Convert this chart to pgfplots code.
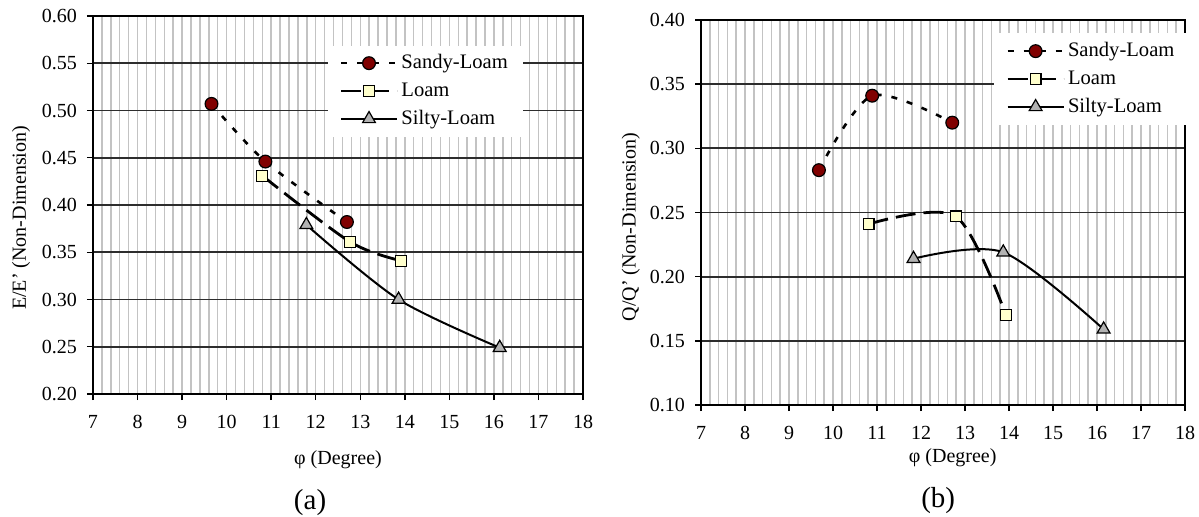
\documentclass[border=0pt]{standalone}
\usepackage{fontspec}
\setmainfont{Liberation Serif}
\usepackage{pgfplots}
\pgfplotsset{compat=1.18}

\definecolor{sandyfill}{RGB}{128,0,0}
\definecolor{loamfill}{RGB}{255,255,204}
\definecolor{siltyfill}{RGB}{178,178,178}
\definecolor{hgrid}{RGB}{45,45,45}
\definecolor{vgrid}{RGB}{195,195,195}

\pgfplotsset{
  soilaxis/.style={
    scale only axis,
    clip=false,
    xmin=7, xmax=18,
    xtick={7,...,18},
    minor x tick num=4,
    ytick distance=0.05,
    xmajorgrids, xminorgrids, ymajorgrids,
    major x grid style={vgrid, line width=0.75pt},
    minor x grid style={vgrid, line width=0.75pt},
    major y grid style={hgrid, line width=0.9pt},
    axis line style={line width=0.7pt},
    tick align=outside,
    tick pos=left,
    major tick length=3pt,
    minor tick length=0pt,
    tick style={black, line width=0.7pt},
    ticklabel style={font=\fontsize{10}{12}\selectfont},
    xticklabel style={yshift=-4pt},
    yticklabel style={xshift=-1.5pt},
    /pgf/number format/assume math mode=true,
    yticklabel style={/pgf/number format/fixed,
      /pgf/number format/fixed zerofill,
      /pgf/number format/precision=2},
    label style={font=\fontsize{10}{12}\selectfont},
    xlabel={φ (Degree)},
    legend style={draw=none, fill=white,
      font=\fontsize{10.3}{12}\selectfont,
      inner xsep=6pt, inner ysep=3pt, row sep=2.5pt,
      nodes={inner sep=1.5pt}},
    legend cell align=left,
    legend image code/.code={%
      \draw[mark repeat=2, mark phase=2, #1]
        plot coordinates {(0pt,0pt) (14pt,0pt) (28pt,0pt)};},
  },
  sandy/.style={black, smooth, line width=1.3pt, dash pattern=on 3pt off 5pt,
    mark=*, mark size=3.2pt,
    mark options={solid, fill=sandyfill, draw=black, line width=0.6pt}},
  loam/.style={black, smooth, line width=1.4pt, dash pattern=on 10pt off 4pt,
    mark=square*, mark size=2.7pt,
    mark options={solid, fill=loamfill, draw=black, line width=0.6pt}},
  silty/.style={black, smooth, line width=1pt,
    mark=triangle*, mark size=3.7pt,
    mark options={solid, fill=siltyfill, draw=black, line width=0.6pt}},
}

\begin{document}
\begin{tikzpicture}
\path[use as bounding box] (0,0) rectangle (599.5pt,258pt);

% (a) relative energy
\begin{axis}[soilaxis,
  at={(46.5pt,61pt)}, anchor=south west,
  width=245pt, height=189pt,
  ymin=0.2, ymax=0.6,
  ylabel={E/E' (Non-Dimension)},
  xlabel style={at={(axis description cs:0.5,-0.175)}, anchor=center},
  ylabel style={at={(axis description cs:-0.147,0.466)}, anchor=center},
  legend style={at={(axis description cs:0.478,0.923)}, anchor=north west},
]
\addplot[sandy] coordinates {(9.66,0.507) (10.87,0.446) (12.70,0.382)};
\addplot[loam] coordinates {(10.80,0.431) (12.77,0.361) (13.92,0.341)};
\addplot[silty] coordinates {(11.79,0.379) (13.86,0.300) (16.13,0.249)};
\legend{Sandy-Loam, Loam, Silty-Loam}
\node[font=\fontsize{14.5}{16}\selectfont] at (axis description cs:0.443,-0.286) {(a)};
\end{axis}

% (b) relative discharge
\begin{axis}[soilaxis,
  at={(350.5pt,55.5pt)}, anchor=south west,
  width=242pt, height=192.5pt,
  ymin=0.1, ymax=0.4,
  ylabel={Q/Q' (Non-Dimension)},
  xlabel style={at={(axis description cs:0.52,-0.138)}, anchor=center},
  ylabel style={at={(axis description cs:-0.145,0.462)}, anchor=center},
  legend style={at={(axis description cs:0.605,0.966)}, anchor=north west},
]
\addplot[sandy] coordinates {(9.68,0.283) (10.89,0.341) (12.71,0.320)};
\addplot[loam] coordinates {(10.81,0.241) (12.79,0.247) (13.93,0.170)};
\addplot[silty] coordinates {(11.83,0.214) (13.87,0.219) (16.15,0.159)};
\legend{Sandy-Loam, Loam, Silty-Loam}
\node[font=\fontsize{14.5}{16}\selectfont] at (axis description cs:0.49,-0.247) {(b)};
\end{axis}
\end{tikzpicture}
\end{document}
